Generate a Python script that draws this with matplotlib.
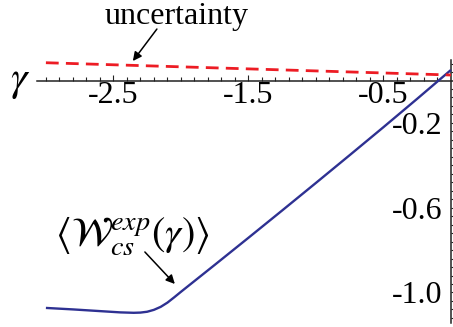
import numpy as np
import matplotlib
matplotlib.use('Agg')
import matplotlib.pyplot as plt

plt.rcParams['font.family'] = 'Liberation Serif'
plt.rcParams['mathtext.fontset'] = 'stix'
plt.rcParams['axes.unicode_minus'] = False

# blue curve <W_cs^exp(gamma)>
gamma = [-3.0, -2.8, -2.6, -2.45, -2.35, -2.3, -2.25, -2.2, -2.15, -2.1, -2.05, -2.0,
         -1.75, -1.5, -1.25, -1.0, -0.75, -0.5, -0.25, 0.0]
w_exp = [-1.073, -1.08, -1.088, -1.094, -1.096, -1.095, -1.091, -1.082, -1.068, -1.048, -1.023, -0.997,
         -0.87, -0.742, -0.613, -0.483, -0.352, -0.22, -0.086, 0.05]

# red dashed uncertainty line
gamma_unc = [-3.0, -1.5, 0.0]
unc = [0.084, 0.055, 0.026]

xticks = [-2.5, -1.5, -0.5]
xlabels = ['-2.5', '-1.5', '-0.5']
yticks = [-0.2, -0.6, -1.0]
ylabels = ['-0.2', '-0.6', '-1.0']

fig = plt.figure(figsize=(4.53, 3.27), dpi=100)
ax = fig.add_axes([0, 0, 1, 1])
ax.set_xlim(-3.34, 0.015)
ax.set_ylim(-1.163, 0.38)

ax.plot(gamma, w_exp, color='#2e3192', lw=1.7, zorder=3, solid_capstyle='butt')
ax.plot(gamma_unc, unc, color='#ed1c24', lw=2.0, dashes=(4.6, 2.6), zorder=3)

for s in ['top', 'right']:
    ax.spines[s].set_visible(False)
ax.spines['bottom'].set_position(('data', 0))
ax.spines['left'].set_position(('data', 0))
ax.spines['bottom'].set_bounds(-3.067, 0.015)
ax.spines['left'].set_bounds(-1.144, 0.097)
for s in ['bottom', 'left']:
    ax.spines[s].set_linewidth(1.1)
    ax.spines[s].set_color('#222222')

ax.set_xticks(xticks, labels=xlabels)
ax.set_xticks([t for t in np.round(np.arange(-3.0, 0.0, 0.1), 2) if t not in xticks], minor=True)
ax.set_yticks(yticks, labels=ylabels)
ax.set_yticks([t for t in np.round(np.arange(-1.12, 0.1, 0.04), 2) if t not in yticks and t != 0], minor=True)

ax.tick_params(axis='both', which='both', direction='in', color='#222222', width=0.8)
ax.tick_params(axis='both', which='major', length=4.5, labelsize=23)
ax.tick_params(axis='both', which='minor', length=2.8)
ax.tick_params(axis='x', which='major', pad=0)
ax.tick_params(axis='y', which='major', pad=6)

ax.text(-3.192, -0.007, r'$\gamma$', fontsize=30, ha='center', va='center')

ax.text(-2.03, 0.30, 'uncertainty', fontsize=23, ha='center', va='center')
ax.annotate('', xy=(-2.356, 0.092), xytext=(-2.178, 0.243),
            arrowprops=dict(arrowstyle='-|>', color='black', lw=1.1, mutation_scale=13,
                            shrinkA=0, shrinkB=0))

ax.text(-2.363, -0.734, r'$\langle\mathcal{W}_{cs}^{exp}(\gamma)\rangle$', fontsize=29,
        ha='center', va='center')
ax.annotate('', xy=(-2.045, -0.960), xytext=(-2.267, -0.809),
            arrowprops=dict(arrowstyle='-|>', color='black', lw=1.1, mutation_scale=13,
                            shrinkA=0, shrinkB=0))

fig.savefig('out.png', dpi=100)
